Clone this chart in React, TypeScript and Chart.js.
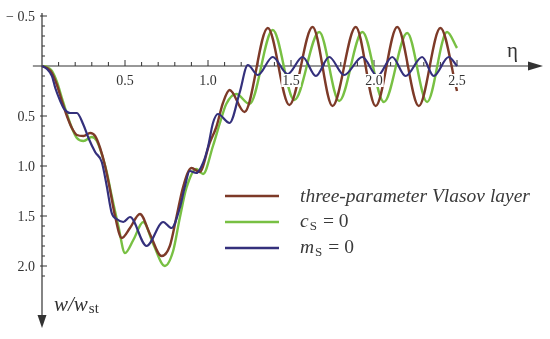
import React, { useEffect, useRef } from "react";
import { Chart, registerables } from "chart.js";

Chart.register(...registerables);

// three-parameter Vlasov layer
const etaVlasov = [0, 0.03, 0.06, 0.09, 0.12, 0.15, 0.18, 0.21, 0.25, 0.29, 0.32, 0.35, 0.38, 0.41, 0.44, 0.48, 0.53, 0.59, 0.65, 0.72, 0.77, 0.81, 0.85, 0.90, 0.95, 1.01, 1.05, 1.09, 1.13, 1.22, 1.36, 1.49, 1.63, 1.75, 1.89, 2.01, 2.14, 2.27, 2.40, 2.50];
const wVlasov = [0, 0.02, 0.07, 0.19, 0.35, 0.50, 0.62, 0.69, 0.70, 0.67, 0.70, 0.82, 1.00, 1.24, 1.50, 1.72, 1.62, 1.48, 1.68, 1.90, 1.80, 1.51, 1.21, 1.02, 1.06, 0.77, 0.61, 0.37, 0.24, 0.46, -0.38, 0.39, -0.39, 0.40, -0.39, 0.40, -0.39, 0.40, -0.38, 0.25];

// c_S = 0
const etaCs0 = [0, 0.03, 0.06, 0.09, 0.12, 0.15, 0.18, 0.21, 0.25, 0.30, 0.33, 0.36, 0.39, 0.42, 0.46, 0.50, 0.55, 0.61, 0.67, 0.74, 0.79, 0.83, 0.87, 0.93, 0.97, 1.03, 1.07, 1.11, 1.17, 1.25, 1.39, 1.52, 1.67, 1.79, 1.93, 2.06, 2.20, 2.32, 2.44, 2.50];
const wCs0 = [0, 0.01, 0.05, 0.16, 0.32, 0.48, 0.62, 0.72, 0.75, 0.71, 0.75, 0.88, 1.06, 1.30, 1.60, 1.87, 1.74, 1.56, 1.78, 2.00, 1.85, 1.52, 1.22, 1.03, 1.08, 0.80, 0.58, 0.38, 0.28, 0.38, -0.36, 0.34, -0.34, 0.35, -0.34, 0.36, -0.33, 0.36, -0.34, -0.18];

// m_S = 0
const etaMs0 = [0, 0.03, 0.06, 0.08, 0.11, 0.13, 0.17, 0.21, 0.25, 0.28, 0.32, 0.36, 0.39, 0.42, 0.45, 0.49, 0.53, 0.63, 0.73, 0.78, 0.83, 0.86, 0.89, 0.93, 0.97, 1.00, 1.03, 1.06, 1.13, 1.19, 1.24, 1.30, 1.39, 1.48, 1.57, 1.65, 1.73, 1.82, 1.93, 2.02, 2.11, 2.19, 2.29, 2.36, 2.45, 2.50];
const wMs0 = [0, 0.03, 0.10, 0.22, 0.35, 0.42, 0.47, 0.47, 0.59, 0.72, 0.86, 0.96, 1.20, 1.47, 1.53, 1.56, 1.51, 1.80, 1.56, 1.62, 1.42, 1.21, 1.05, 1.07, 0.97, 0.81, 0.57, 0.48, 0.57, 0.27, -0.01, 0.09, -0.09, 0.08, -0.09, 0.10, -0.09, 0.09, -0.09, 0.10, -0.09, 0.10, -0.09, 0.10, -0.09, 0.0];

const xTickValues = [0.5, 1.0, 1.5, 2.0, 2.5];
const xTickLabels = ["0.5", "1.0", "1.5", "2.0", "2.5"];
const yTickValues = [-0.5, 0.5, 1.0, 1.5, 2.0];
const yTickLabels = ["\u2212 0.5", "0.5", "1.0", "1.5", "2.0"];
const seriesNames = ["three-parameter Vlasov layer", "c", "m"];
const seriesColors = ["#7d3a28", "#78c043", "#34307c"];

const toPoints = (xs: number[], ys: number[]) => xs.map((x, i) => ({ x, y: ys[i] }));

const AXIS = "#333333";
const SERIF = "'Liberation Serif', 'DejaVu Serif', serif";

const overlayPlugin = {
  id: "overlay",
  beforeDatasetsDraw(chart: any) {
    const ctx = chart.ctx;
    const xs = chart.scales.x;
    const ys = chart.scales.y;
    const x0 = xs.getPixelForValue(0);
    const y0 = ys.getPixelForValue(0);
    ctx.save();
    ctx.strokeStyle = AXIS;
    ctx.fillStyle = AXIS;
    ctx.lineWidth = 1.2;
    // x axis
    const xTip = chart.width - 7;
    ctx.beginPath();
    ctx.moveTo(xs.getPixelForValue(-0.055), y0);
    ctx.lineTo(xTip - 12, y0);
    ctx.stroke();
    ctx.beginPath();
    ctx.moveTo(xTip, y0);
    ctx.lineTo(xTip - 15, y0 - 4.5);
    ctx.lineTo(xTip - 15, y0 + 4.5);
    ctx.closePath();
    ctx.fill();
    // y axis
    const yTip = chart.height - 11;
    ctx.beginPath();
    ctx.moveTo(x0, ys.getPixelForValue(-0.53));
    ctx.lineTo(x0, yTip - 10);
    ctx.stroke();
    ctx.beginPath();
    ctx.moveTo(x0, yTip);
    ctx.lineTo(x0 - 4.5, yTip - 13);
    ctx.lineTo(x0 + 4.5, yTip - 13);
    ctx.closePath();
    ctx.fill();
    // ticks
    ctx.lineWidth = 1;
    for (let i = 1; i <= 25; i++) {
      const px = xs.getPixelForValue(i / 10);
      const major = i % 5 === 0;
      ctx.beginPath();
      ctx.moveTo(px, y0);
      ctx.lineTo(px, y0 - (major ? 6 : 4));
      ctx.stroke();
    }
    for (let i = -5; i <= 21; i++) {
      if (i === 0) continue;
      const py = ys.getPixelForValue(i / 10);
      const major = i % 5 === 0;
      ctx.beginPath();
      ctx.moveTo(x0 - (major ? 2 : 0), py);
      ctx.lineTo(x0 + (major ? 5 : 3), py);
      ctx.stroke();
    }
    ctx.restore();
  },
  afterDatasetsDraw(chart: any) {
    const ctx = chart.ctx;
    const xs = chart.scales.x;
    const ys = chart.scales.y;
    const x0 = xs.getPixelForValue(0);
    const y0 = ys.getPixelForValue(0);
    ctx.save();
    // x tick labels with white knock-out
    ctx.font = `14px ${SERIF}`;
    ctx.textAlign = "center";
    ctx.textBaseline = "middle";
    xTickValues.forEach((v, i) => {
      const px = xs.getPixelForValue(v);
      const w = ctx.measureText(xTickLabels[i]).width;
      ctx.fillStyle = "#ffffff";
      ctx.fillRect(px - w / 2 - 1, y0 + 8, w + 2, 13);
      ctx.fillStyle = AXIS;
      ctx.fillText(xTickLabels[i], px, y0 + 15);
    });
    // y tick labels
    ctx.textAlign = "right";
    yTickValues.forEach((v, i) => {
      const py = ys.getPixelForValue(v);
      ctx.fillText(yTickLabels[i], x0 - 7, py + 1.5);
    });
    // axis titles
    ctx.textAlign = "left";
    ctx.textBaseline = "alphabetic";
    ctx.font = `21px ${SERIF}`;
    ctx.fillText("\u03b7", 507, y0 - 9);
    ctx.font = `italic 21px ${SERIF}`;
    ctx.fillText("w/w", 54, 311);
    const ww = ctx.measureText("w/w").width;
    ctx.font = `15px ${SERIF}`;
    ctx.fillText("st", 54 + ww + 1, 313);

    // legend
    const lx = 225;
    const ly = 196;
    const step = 26;
    seriesColors.forEach((c, i) => {
      const y = ly + i * step;
      ctx.strokeStyle = c;
      ctx.lineWidth = 2.5;
      ctx.beginPath();
      ctx.moveTo(lx, y);
      ctx.lineTo(lx + 54, y);
      ctx.stroke();
    });
    ctx.fillStyle = "#3a3a3a";
    ctx.font = `italic 19.5px ${SERIF}`;
    ctx.fillText(seriesNames[0], 300, ly + 6);
    [1, 2].forEach((k) => {
      const y = ly + k * step + 5;
      ctx.font = `italic 19.5px ${SERIF}`;
      ctx.fillText(seriesNames[k], 300, y);
      const w1 = ctx.measureText(seriesNames[k]).width;
      ctx.font = `13px ${SERIF}`;
      ctx.fillText("S", 300 + w1 + 1, y + 3);
      const w2 = ctx.measureText("S").width;
      ctx.font = `19.5px ${SERIF}`;
      ctx.fillText("= 0", 300 + w1 + w2 + 7, y);
    });
    ctx.restore();
  },
};

export default function App() {
  const ref = useRef<HTMLCanvasElement>(null);
  useEffect(() => {
    if (!ref.current) return;
    const chart = new Chart(ref.current, {
      type: "line",
      data: {
        datasets: [
          {
            label: "m_S = 0",
            data: toPoints(etaMs0, wMs0),
            borderColor: seriesColors[2],
            borderWidth: 2.2,
            pointRadius: 0,
            cubicInterpolationMode: "monotone",
            clip: false as any,
          },
          {
            label: "three-parameter Vlasov layer",
            data: toPoints(etaVlasov, wVlasov),
            borderColor: seriesColors[0],
            borderWidth: 2.4,
            pointRadius: 0,
            cubicInterpolationMode: "monotone",
            clip: false as any,
          },
          {
            label: "c_S = 0",
            data: toPoints(etaCs0, wCs0),
            borderColor: seriesColors[1],
            borderWidth: 2.4,
            pointRadius: 0,
            cubicInterpolationMode: "monotone",
            clip: false as any,
          },
        ],
      },
      options: {
        responsive: false,
        animation: false,
        parsing: true,
        layout: { padding: { left: 42, right: 93, top: 16, bottom: 73 } },
        plugins: { legend: { display: false }, tooltip: { enabled: false } },
        scales: {
          x: { type: "linear", min: 0, max: 2.5, display: false },
          y: { type: "linear", min: -0.5, max: 2.0, reverse: true, display: false },
        },
      },
      plugins: [overlayPlugin],
    });
    return () => chart.destroy();
  }, []);
  return (
    <div style={{ position: "absolute", left: 0, top: 0, width: 550, height: 339, background: "#ffffff" }}>
      <canvas ref={ref} width={550} height={339} style={{ width: 550, height: 339, display: "block" }} />
    </div>
  );
}
